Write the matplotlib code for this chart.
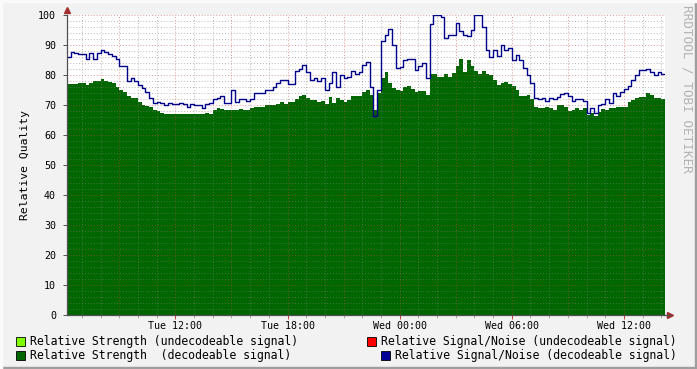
import numpy as np
import matplotlib
matplotlib.use('Agg')
import matplotlib.pyplot as plt
from matplotlib.patches import Rectangle

# time axis: hours since Tue 00:00, one sample every 12 minutes
t_start = 6.2
t_step = 0.2

# Relative Signal/Noise (decodeable signal)
snr = [86, 87.8, 87.5, 87, 87, 85.5, 87.5, 85.5, 87.5, 88.5,
       87.8, 87, 86.5, 85.5, 83.1, 83.1, 78, 78.9, 78, 76.7,
       75.6, 74.5, 72.3, 70.8, 71, 70.8, 70, 70.8, 70.5, 70.2,
       70.8, 70.5, 69.2, 70.5, 70, 70, 69, 70.3, 70.8, 71.9,
       72.2, 73, 70.8, 70.8, 75, 71, 71.9, 71.9, 71.5, 71.9,
       73.9, 74, 74, 75, 75, 75.9, 77.5, 78.5, 78.5, 77,
       77, 81.5, 82, 83.5, 81, 78.5, 78.9, 78, 78.9, 75,
       77.5, 81, 76, 80, 79, 79.5, 81.5, 80.5, 80.9, 83.5,
       84.5, 76, 66.5, 75, 91.5, 93.5, 95.5, 90, 82.5, 82.8,
       85, 85.5, 85.5, 81.8, 83, 84, 79, 97, 99.9, 99.9,
       99.5, 92.5, 93.3, 93.3, 97.5, 94.8, 93.5, 93, 95, 99.9,
       99.9, 96, 88.5, 86, 88.5, 86.5, 90, 88.5, 89, 85,
       86.7, 85, 82.2, 80, 77.5, 72.4, 71.9, 72.3, 71.5, 72.5,
       72, 72.6, 73.6, 74, 73, 71.3, 71.9, 72, 71.5, 67.5,
       69, 67.5, 70, 70.5, 72, 70.8, 74, 73, 74.5, 75.2,
       76.5, 78.5, 80, 81.7, 81.7, 81.9, 81.1, 80, 81, 80.5]

# Relative Strength (decodeable signal)
strength = [77, 77, 77, 77.5, 77.5, 76.7, 77.3, 78, 78, 78.7,
            78, 77.7, 77.2, 75.9, 75, 74.5, 73, 72.2, 72.2, 71.1,
            70, 69.8, 69.2, 68.5, 68, 67.3, 67, 67, 67, 67,
            67, 67, 67, 67, 67, 67, 67, 67.5, 67, 68.5,
            69, 68.8, 68.2, 68.2, 68.5, 68.5, 68.7, 68.2, 68.2, 69.1,
            69.2, 69.5, 69.3, 70, 70, 70, 70.3, 70.9, 70.3, 70.9,
            70.9, 72, 73, 73.5, 72.5, 71.6, 71.8, 70.9, 71.3, 70.5,
            72.6, 70.6, 72.4, 71.8, 71.1, 71.6, 73, 73, 73, 74.5,
            75, 73.5, 68.3, 74, 79, 81.1, 77.3, 75.8, 75, 74.6,
            75.9, 76.3, 75.3, 74.3, 74.7, 74.7, 73.5, 80.5, 80.5, 79.5,
            79.2, 80.5, 79.5, 80.8, 83, 85.5, 81, 85, 83, 81.5,
            80.3, 81.5, 80.5, 80, 78.5, 76.7, 77.5, 77.8, 77.1, 76.2,
            75, 73, 73, 73.5, 72, 69.5, 68.9, 69, 69.5, 69,
            68.5, 70, 70, 69.4, 67.9, 68.5, 68.9, 68.5, 68.9, 66.8,
            67.5, 66.3, 67.8, 68.7, 68.3, 68.9, 68.9, 69.2, 69.2, 69.5,
            71.1, 71.7, 72.5, 72.6, 72.7, 73.9, 73.5, 72.5, 72.2, 72]

tick_pos = [12, 18, 24, 30, 36]
tick_labels = ['Tue 12:00', 'Tue 18:00', 'Wed 00:00', 'Wed 06:00', 'Wed 12:00']

legend_labels = ['Relative Strength (undecodeable signal)',
                 'Relative Signal/Noise (undecodeable signal)',
                 'Relative Strength  (decodeable signal)',
                 'Relative Signal/Noise (decodeable signal)']
legend_colors = ['#80FF00', '#FF0000', '#006600', '#000099']

n = len(snr)
t = t_start + t_step * np.arange(n + 1)
snr_d = np.append(snr, snr[-1])
str_d = np.append(strength, strength[-1])

mono = 'DejaVu Sans Mono'
plt.rcParams['font.family'] = mono

fig = plt.figure(figsize=(6.97, 3.69), dpi=100, facecolor='#F2F2F2')
ax = fig.add_axes([67/697, 1-315/369, 598/697, 300/369])
ax.set_facecolor('white')

ax.fill_between(t, 0, str_d, step='post', color='#006600', lw=0, zorder=1)
ax.plot(t, snr_d, drawstyle='steps-post', color='#00008B', lw=1.0, zorder=3)

ax.set_xlim(t[0], t[-1])
ax.set_ylim(0, 100)

# grid: hourly minor, 3-hourly major; y minor every 2, major every 10
for h in range(7, 39):
    if h % 3 == 0:
        ax.axvline(h, color='#C04848', alpha=0.55, lw=0.7, ls=(0, (1, 2)), zorder=2)
    else:
        ax.axvline(h, color='#808080', alpha=0.55, lw=0.7, ls=(0, (1, 2)), zorder=2)
for v in range(2, 101, 2):
    if v % 10 == 0:
        ax.axhline(v, color='#C04848', alpha=0.55, lw=0.7, ls=(0, (1, 2)), zorder=2)
    else:
        ax.axhline(v, color='#808080', alpha=0.55, lw=0.7, ls=(0, (1, 2)), zorder=2)

ax.set_xticks(tick_pos)
ax.set_xticklabels(tick_labels, fontsize=7.2)
ax.set_xticks(range(7, 39), minor=True)
ax.set_yticks(range(0, 101, 10))
ax.set_yticklabels([str(v) for v in range(0, 101, 10)], fontsize=7.2)
ax.tick_params(axis='both', which='major', length=3, width=0.7, color='#C04040', pad=5)
ax.tick_params(axis='x', which='major', pad=1.5)
ax.tick_params(axis='both', which='minor', length=2, width=0.6, color='#A0A0A0')
ax.tick_params(axis='y', which='major', color='#505050')

for s in ['top', 'right']:
    ax.spines[s].set_visible(False)
for s in ['left', 'bottom']:
    ax.spines[s].set_color('#505050')
    ax.spines[s].set_linewidth(0.9)
    ax.spines[s].set_zorder(4)

# axis arrows
ax.plot([0], [1.017], marker='^', color='#A03030', ms=4, transform=ax.transAxes, clip_on=False)
ax.plot([1.008], [0], marker='>', color='#A03030', ms=4, transform=ax.transAxes, clip_on=False)
ax.plot([1.0, 1.008], [0, 0], color='#505050', lw=0.9, transform=ax.transAxes, clip_on=False)

ax.set_ylabel('Relative Quality', fontsize=8.2, labelpad=6)

fig.text(687/697, 1-5/369, 'RRDTOOL / TOBI OETIKER', rotation=-90, fontsize=9.2,
         color='#B4B4B4', ha='center', va='top')

# legend drawn like rrdtool
def legend_item(xbox, y, color, label):
    fig.patches.append(Rectangle((xbox/697, 1-(y+5)/369), 9/697, 9/369, transform=fig.transFigure,
                                 facecolor=color, edgecolor='black', lw=0.6))
    fig.text((xbox+14)/697, 1-y/369, label, fontsize=8.3, va='center', ha='left')

legend_item(16, 341, legend_colors[0], legend_labels[0])
legend_item(367, 341, legend_colors[1], legend_labels[1])
legend_item(16, 355, legend_colors[2], legend_labels[2])
legend_item(381, 355, legend_colors[3], legend_labels[3])

# 3d frame
fig.patches.append(Rectangle((0, 0), 1, 2/369, transform=fig.transFigure, color='#9E9E9E'))
fig.patches.append(Rectangle((1-2/697, 0), 2/697, 1, transform=fig.transFigure, color='#9E9E9E'))
fig.patches.append(Rectangle((0, 1-2/369), 1, 2/369, transform=fig.transFigure, color='#FAFAFA'))
fig.patches.append(Rectangle((0, 0), 2/697, 1, transform=fig.transFigure, color='#FAFAFA'))

fig.savefig('out.png', dpi=100, facecolor=fig.get_facecolor())
